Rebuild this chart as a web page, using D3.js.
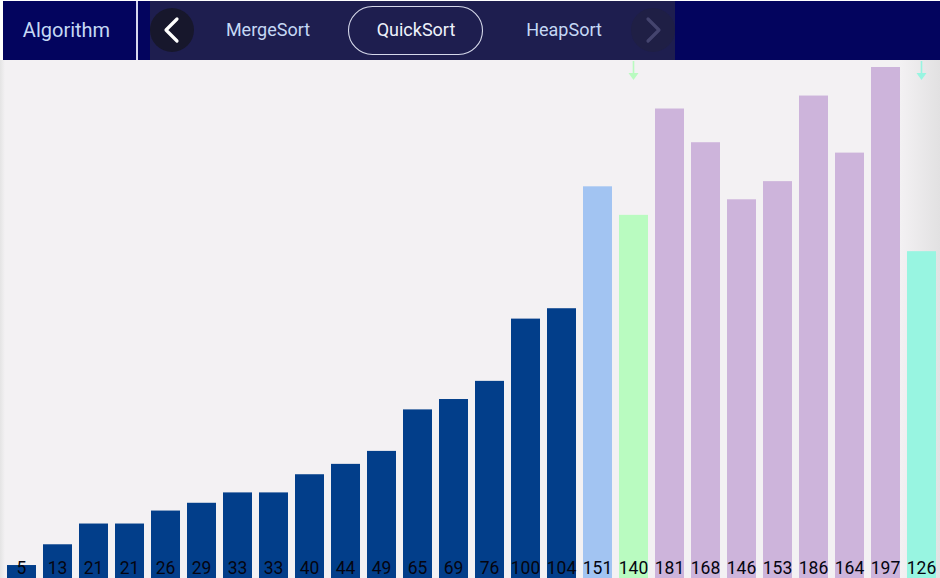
<!DOCTYPE html>
<html><head><meta charset="utf-8">
<script src="https://cdn.jsdelivr.net/npm/d3@7/dist/d3.min.js"></script>
<style>html,body{margin:0;padding:0;background:#fff;overflow:hidden}svg{display:block;font-family:Roboto,sans-serif}</style>
</head><body><svg id="c" width="940" height="578"></svg>
<script>
const values=[5,13,21,21,26,29,33,33,40,44,49,65,69,76,100,104,151,140,181,168,146,153,186,164,197,126];
const states=["done","done","done","done","done","done","done","done","done","done","done","done","done","done","done","done","pivot","low","mid","mid","mid","mid","mid","mid","mid","high"];
const stateColors={done:"#023e8a",pivot:"#a2c4f2",low:"#b9fbc0",mid:"#cdb4db",high:"#98f5e1"};
const arrowStates=["low","high"];
const navItems=["MergeSort","QuickSort","HeapSort"];
const selected="QuickSort";
const title="Algorithm";

const svg=d3.select("#c");
const defs=svg.append("defs");
const gr=defs.append("linearGradient").attr("id","edgeR");
gr.append("stop").attr("offset","0").attr("stop-color","#e2e1e2").attr("stop-opacity",0);
gr.append("stop").attr("offset","1").attr("stop-color","#e2e1e2");
const gl=defs.append("linearGradient").attr("id","edgeL");
gl.append("stop").attr("offset","0").attr("stop-color","#e4e4e4");
gl.append("stop").attr("offset","1").attr("stop-color","#e4e4e4").attr("stop-opacity",0);

svg.append("rect").attr("x",0).attr("y",60).attr("width",940).attr("height",518).attr("fill","#f3f1f3");
svg.append("rect").attr("x",0).attr("y",60).attr("width",5).attr("height",518).attr("fill","url(#edgeL)");
svg.append("rect").attr("x",900).attr("y",60).attr("width",40).attr("height",518).attr("fill","url(#edgeR)");

const x=d3.scaleBand().domain(d3.range(values.length)).range([3.5,939.5]).paddingInner(7/36).paddingOuter(3.5/36);
const y=d3.scaleLinear().domain([0,197]).range([578,67]);

svg.append("g").selectAll("rect").data(values).join("rect")
  .attr("x",(d,i)=>x(i)).attr("y",d=>y(d)).attr("width",x.bandwidth())
  .attr("height",d=>y(0)-y(d)).attr("fill",(d,i)=>stateColors[states[i]]);

svg.append("g").selectAll("text").data(values).join("text")
  .attr("x",(d,i)=>x(i)+x.bandwidth()/2).attr("y",574)
  .attr("text-anchor","middle").attr("font-size",17.5).attr("fill","#050510").text(d=>d);

// arrows over the flagged bars
const arrows=svg.append("g");
states.forEach((s,i)=>{
  if(!arrowStates.includes(s))return;
  const cx=x(i)+x.bandwidth()/2,c=stateColors[s];
  arrows.append("path").attr("d",d3.line()([[cx,61],[cx,75]])).attr("stroke",c).attr("stroke-width",1.6).attr("fill","none");
  arrows.append("path").attr("d",d3.line()([[cx-5,73],[cx+5,73],[cx,80]])+"Z").attr("fill",c);
});

// header
svg.append("rect").attr("x",3).attr("y",1).attr("width",937).attr("height",59).attr("fill","#03045e");
svg.append("rect").attr("x",136).attr("y",1).attr("width",2).attr("height",59).attr("fill","#d6d8ee");
svg.append("rect").attr("x",150).attr("y",1).attr("width",525).attr("height",59).attr("fill","#1e1e4f");
svg.append("text").attr("x",66.5).attr("y",37).attr("text-anchor","middle").attr("font-size",20).attr("fill","#c5d8f5").text(title);

svg.append("circle").attr("cx",172).attr("cy",30).attr("r",22).attr("fill","#17172c");
svg.append("path").attr("d",d3.line()([[177,19],[166,30],[177,41]])).attr("fill","none").attr("stroke","#fff").attr("stroke-width",3.2).attr("stroke-linecap","round").attr("stroke-linejoin","round");
svg.append("circle").attr("cx",653).attr("cy",30).attr("r",22).attr("fill","#1f1f45");
svg.append("path").attr("d",d3.line()([[648,19],[659,30],[648,41]])).attr("fill","none").attr("stroke","#44446e").attr("stroke-width",3.2).attr("stroke-linecap","round").attr("stroke-linejoin","round");

const navX=d3.scalePoint().domain(navItems).range([268,564]);
svg.append("rect").attr("x",348.5).attr("y",6.5).attr("width",134).attr("height",48).attr("rx",24).attr("fill","none").attr("stroke","#d5d8ea").attr("stroke-width",1.1);
svg.append("g").selectAll("text").data(navItems).join("text")
  .attr("x",d=>d==="QuickSort"?416:navX(d)).attr("y",36)
  .attr("text-anchor","middle").attr("font-size",18)
  .attr("fill",d=>d===selected?"#eef2fb":"#c5d8f5").text(d=>d);
</script></body></html>
